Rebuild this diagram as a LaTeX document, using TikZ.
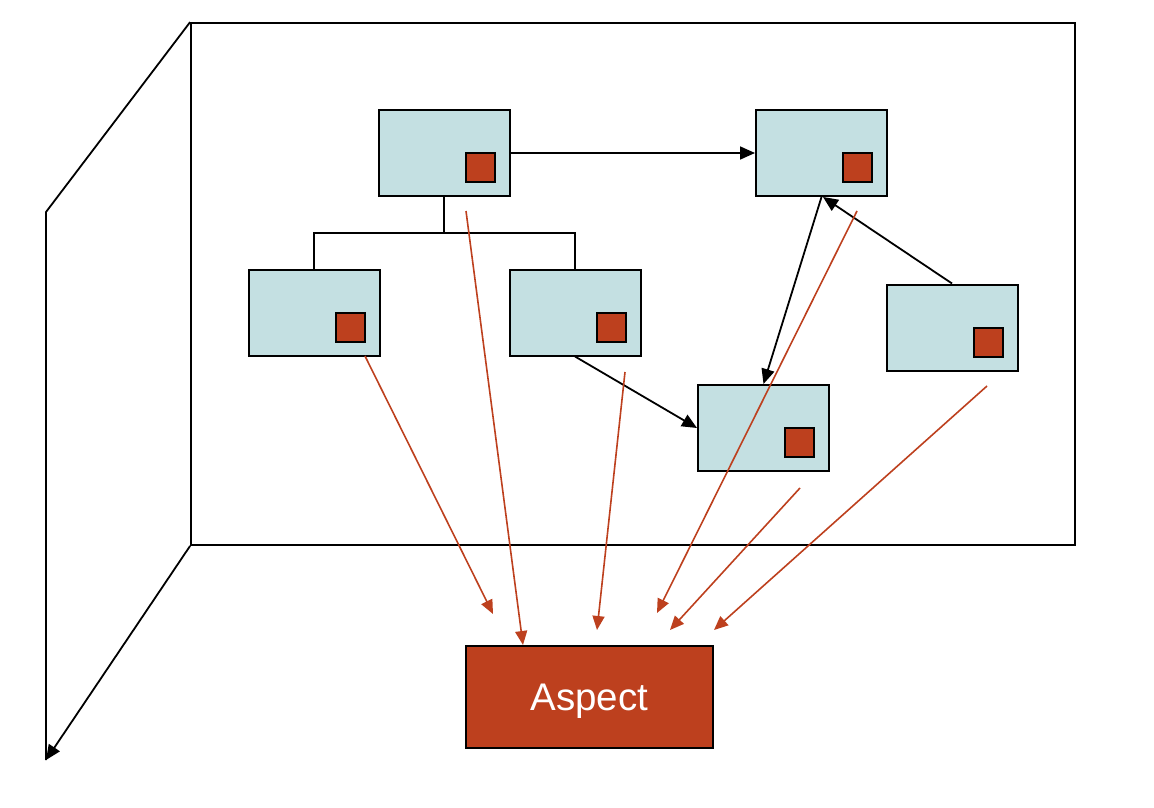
\documentclass[tikz,border=0pt]{standalone}
\usepackage{fontspec}
\setmainfont{Liberation Sans}
\usetikzlibrary{arrows.meta}
\definecolor{boxblue}{HTML}{C4E0E2}
\definecolor{aspred}{HTML}{BD401E}
\tikzset{
  comp/.style={draw=black, line width=2pt, fill=boxblue, minimum width=131pt, minimum height=86pt, inner sep=0pt},
  mark sq/.style={draw=black, line width=2pt, fill=aspred, minimum width=29pt, minimum height=29pt, inner sep=0pt},
  blk/.style={draw=black, line width=1.8pt},
  arr/.style={blk, -{Triangle[length=15pt,width=13pt]}},
  redarr/.style={draw=aspred, line width=1.6pt, -{Triangle[length=14pt,width=12pt]}},
}
\begin{document}
\begin{tikzpicture}[x=1pt,y=-1pt]
\useasboundingbox (0,0) rectangle (1154,808);
% frame
\node[blk, minimum width=884pt, minimum height=522pt, inner sep=0pt] (frame) at (633,284) {};
\coordinate (pl) at (46,212);
\coordinate (pb) at (46,760);
\draw[blk] (frame.north west) -- (pl) -- (pb);
\draw[arr] (frame.south west) -- (pb);
% components
\node[comp] (A) at (444.5,153) {};
\node[comp] (B) at (821.5,153) {};
\node[comp] (C) at (314,312.5) {};
\node[comp] (D) at (575,312.5) {};
\node[comp] (E) at (952,327.5) {};
\node[comp] (F) at (763.5,428) {};
\foreach \n in {A,B,C,D,E,F}{
  \node[mark sq] (\n m) at ([xshift=36pt,yshift=-14.5pt]\n.center) {};
}
% aspect
\node[draw=black, line width=2pt, fill=aspred, minimum width=247pt, minimum height=102pt, inner sep=0pt, text=white, text height=27.5pt, text depth=0pt, font=\fontsize{38.5}{40}\selectfont] (asp) at (589.5,697) {Aspect};
% black connectors
\draw[arr] (A.east) -- (B.west);
\coordinate (Aj) at (444,233);
\draw[blk] (A.south) ++(-0.5,0) -- (Aj);
\draw[blk] (Aj) -| (C.north);
\draw[blk] (Aj) -| (D.north);
\draw[arr] (D.south) -- (F.west);
\draw[arr] (B.south) -- (F.north);
\draw[arr] (E.north) -- ([xshift=1.5pt]B.south);
% red arrows
\coordinate (rC1) at (365,356);  \coordinate (rC2) at (493,614);
\coordinate (rA1) at (466,211);  \coordinate (rA2) at (523,645);
\coordinate (rD1) at (625,372);  \coordinate (rD2) at (597,630);
\coordinate (rB1) at (857,211);  \coordinate (rB2) at (657,613);
\coordinate (rF1) at (800,488);  \coordinate (rF2) at (670,630);
\coordinate (rE1) at (987,386);  \coordinate (rE2) at (714,630);
\draw[redarr] (rC1) -- (rC2);
\draw[redarr] (rA1) -- (rA2);
\draw[redarr] (rD1) -- (rD2);
\draw[redarr] (rB1) -- (rB2);
\draw[redarr] (rF1) -- (rF2);
\draw[redarr] (rE1) -- (rE2);
\end{tikzpicture}
\end{document}
